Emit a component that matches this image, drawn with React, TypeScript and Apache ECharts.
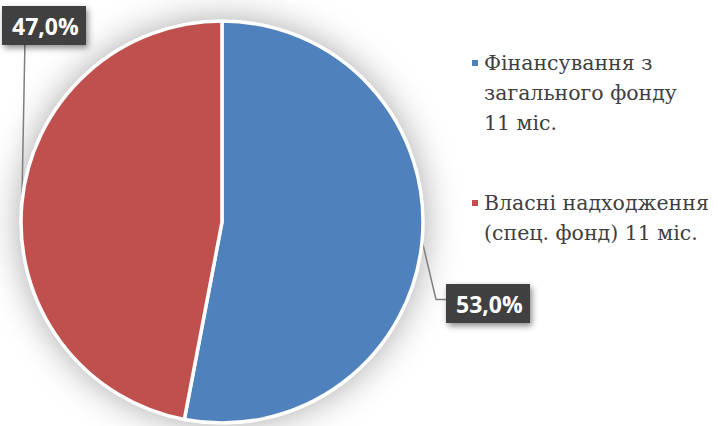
import React, { useEffect, useRef } from "react";
import * as echarts from "echarts";

const categories = [
  "Фінансування з загального фонду 11 міс.",
  "Власні надходження (спец. фонд) 11 міс.",
];
const legendLines = [
  ["Фінансування з", "загального фонду", "11 міс."],
  ["Власні надходження", "(спец. фонд) 11 міс."],
];
const values = [53.0, 47.0];
const colors = ["#4F81BD", "#C0504D"];

export default function App() {
  const ref = useRef<HTMLDivElement>(null);
  useEffect(() => {
    if (!ref.current) return;
    const chart = echarts.init(ref.current, null, { renderer: "svg" });
    const L = 30;
    const total = values.reduce((s, v) => s + v, 0);
    chart.setOption({
      animation: false,
      backgroundColor: "#ffffff",
      legend: {
        orient: "vertical",
        left: 465,
        top: -17,
        itemWidth: 8,
        itemHeight: 8,
        itemGap: 20,
        icon: "rect",
        textStyle: {
          fontFamily: "DejaVu Serif",
          fontSize: 20.5,
          color: "#404040",
          lineHeight: L,
        },
        formatter: (name: string) => {
          const lines = legendLines[categories.indexOf(name)];
          const pad = new Array(lines.length - 1).fill(" ");
          return pad.concat(lines).join("\n");
        },
        data: categories,
      },
      series: [
        {
          type: "pie",
          name: "shadow",
          silent: true,
          center: [222, 222],
          radius: [0, 202],
          label: { show: false },
          labelLine: { show: false },
          itemStyle: {
            color: "#ffffff",
            shadowBlur: 36,
            shadowColor: "rgba(0,0,0,0.35)",
          },
          data: [{ name: "", value: total }],
          z: 1,
        },
        {
          type: "pie",
          center: [222, 222],
          radius: [0, 201],
          startAngle: 90,
          clockwise: true,
          z: 2,
          data: categories.map((c, i) => ({
            name: c,
            value: values[i],
            itemStyle: { color: colors[i] },
          })),
          itemStyle: {
            borderColor: "#ffffff",
            borderWidth: 3.5,
          },
          label: {
            show: true,
            formatter: (p: any) => p.value.toFixed(1).replace(".", ",") + "%",
            fontFamily: "Open Sans",
            fontWeight: "bold",
            fontSize: 23,
            lineHeight: 23,
            color: "#ffffff",
            backgroundColor: "#404040",
            padding: [8, 10, 8, 10],
            overflow: "none",
            shadowBlur: 6,
            shadowColor: "rgba(0,0,0,0.45)",
            shadowOffsetX: 2,
            shadowOffsetY: 3,
          },
          labelLine: {
            show: true,
            length: 20,
            length2: 10,
            lineStyle: { color: "#7f7f7f", width: 1.5 },
          },
          labelLayout: (p: any) => {
            const h = p.labelRect.height;
            const a = p.labelLinePoints ? p.labelLinePoints[0] : [0, 0];
            if (p.dataIndex === 0) {
              const x = 446, y = 284;
              return {
                x, y, align: "left", verticalAlign: "top", width: 64,
                labelLinePoints: [a, [x - 10, y + h / 2 - 4], [x, y + h / 2 - 4]],
              };
            } else {
              const x = 2, y = 6;
              return {
                x, y, align: "left", verticalAlign: "top", width: 64,
                labelLinePoints: [a, [a[0] + 3, y + h], [a[0] + 3, y + h]],
              };
            }
          },
        },
      ],
    });
    return () => chart.dispose();
  }, []);
  return <div ref={ref} style={{ position: "fixed", left: 0, top: 0, width: 718, height: 426 }} />;
}
